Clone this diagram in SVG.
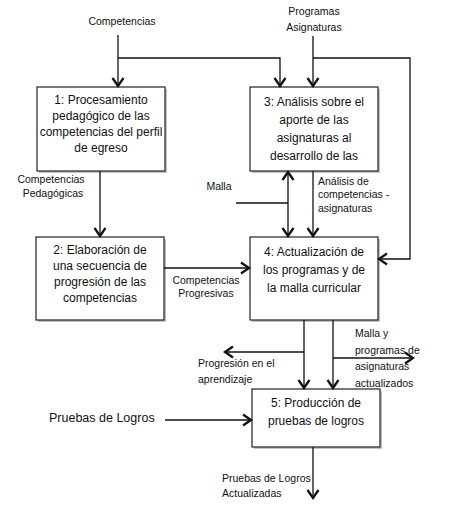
<svg xmlns="http://www.w3.org/2000/svg" width="474" height="509" viewBox="0 0 474 509">
<style>
.box{fill:#fff;stroke:#222;stroke-width:1.2}
.sh{fill:#9a9a9a;opacity:0.6}
.bt{font-family:"Liberation Sans",Arial,sans-serif;font-size:12px;fill:#111;text-anchor:middle}
.lb{font-family:"Liberation Sans",Arial,sans-serif;font-size:10.5px;fill:#111}
.c{text-anchor:middle}
.big{font-family:"Liberation Sans",Arial,sans-serif;font-size:12.5px;fill:#111}
.ln{fill:none;stroke:#111;stroke-width:1.3}
</style>
<defs>
<marker id="ah" viewBox="-10 -7 12 14" markerWidth="12" markerHeight="14" refX="0" refY="0" orient="auto-start-reverse" markerUnits="userSpaceOnUse">
<path d="M-8,-5.5 L0,0 L-8,5.5" fill="none" stroke="#111" stroke-width="2.3"/>
</marker>
</defs>
<rect width="474" height="509" fill="#fff"/>
<g id="n1">
<rect class="sh" x="39" y="89" width="128" height="84"/>
<rect class="box" x="37" y="87" width="128" height="84"/>
<text class="bt" x="101" y="104">1: Procesamiento</text>
<text class="bt" x="101" y="120">pedagógico de las</text>
<text class="bt" x="101" y="136">competencias del perfil</text>
<text class="bt" x="101" y="152">de egreso</text>
</g>
<g id="n3">
<rect class="sh" x="252" y="89" width="128" height="84"/>
<rect class="box" x="250" y="87" width="128" height="84"/>
<text class="bt" x="314" y="106">3: Análisis sobre el</text>
<text class="bt" x="314" y="124">aporte de las</text>
<text class="bt" x="314" y="142">asignaturas al</text>
<text class="bt" x="314" y="160">desarrollo de las</text>
</g>
<g id="n2">
<rect class="sh" x="38" y="239" width="128" height="83"/>
<rect class="box" x="36" y="237" width="128" height="83"/>
<text class="bt" x="100" y="254">2: Elaboración de</text>
<text class="bt" x="100" y="270">una secuencia de</text>
<text class="bt" x="100" y="286">progresión de las</text>
<text class="bt" x="100" y="302">competencias</text>
</g>
<g id="n4">
<rect class="sh" x="252" y="239" width="128" height="83"/>
<rect class="box" x="250" y="237" width="128" height="83"/>
<text class="bt" x="314" y="256">4: Actualización de</text>
<text class="bt" x="314" y="274">los programas y de</text>
<text class="bt" x="314" y="292">la malla curricular</text>
</g>
<g id="n5">
<rect class="sh" x="254" y="391" width="128" height="58"/>
<rect class="box" x="252" y="389" width="128" height="58"/>
<text class="bt" x="316" y="407">5: Producción de</text>
<text class="bt" x="316" y="425">pruebas de logros</text>
</g>
<g id="connectors">
<path class="ln" d="M118,35 V86" marker-end="url(#ah)"/>
<path class="ln" d="M118,58 H280 V86" marker-end="url(#ah)"/>
<path class="ln" d="M313,36 V86" marker-end="url(#ah)"/>
<path class="ln" d="M313,58 H410 V259 H379" marker-end="url(#ah)"/>
<path class="ln" d="M100,171 V236" marker-end="url(#ah)"/>
<path class="ln" d="M236,203 H288"/>
<path class="ln" d="M288,172 V236" marker-start="url(#ah)" marker-end="url(#ah)"/>
<path class="ln" d="M313,171 V236" marker-end="url(#ah)"/>
<path class="ln" d="M164,268 H249" marker-end="url(#ah)"/>
<path class="ln" d="M304,320 V388" marker-end="url(#ah)"/>
<path class="ln" d="M304,352 H225" marker-end="url(#ah)"/>
<path class="ln" d="M333,320 V388" marker-end="url(#ah)"/>
<path class="ln" d="M333,358 H413" marker-end="url(#ah)"/>
<path class="ln" d="M165,420 H251" marker-end="url(#ah)"/>
<path class="ln" d="M313,447 V498" marker-end="url(#ah)"/>
</g>
<g id="labels">
<text class="lb c" x="122" y="25">Competencias</text>
<text class="lb c" x="314" y="15">Programas</text>
<text class="lb c" x="314" y="31">Asignaturas</text>
<text class="lb c" x="51" y="183">Competencias</text>
<text class="lb c" x="53" y="197">Pedagógicas</text>
<text class="lb c" x="219" y="190">Malla</text>
<text class="lb" x="318" y="185">Análisis de</text>
<text class="lb" x="318" y="198">competencias -</text>
<text class="lb" x="318" y="212">asignaturas</text>
<text class="lb c" x="206" y="284">Competencias</text>
<text class="lb c" x="206" y="297">Progresivas</text>
<text class="lb" x="198" y="367">Progresión en el</text>
<text class="lb" x="198" y="383">aprendizaje</text>
<text class="lb" x="355" y="337">Malla y</text>
<text class="lb" x="355" y="354">programas de</text>
<text class="lb" x="355" y="370">asignaturas</text>
<text class="lb" x="355" y="387">actualizados</text>
<text class="big" x="49" y="422">Pruebas de Logros</text>
<text class="lb" x="222" y="482">Pruebas de Logros</text>
<text class="lb" x="222" y="497">Actualizadas</text>
</g>
</svg>
